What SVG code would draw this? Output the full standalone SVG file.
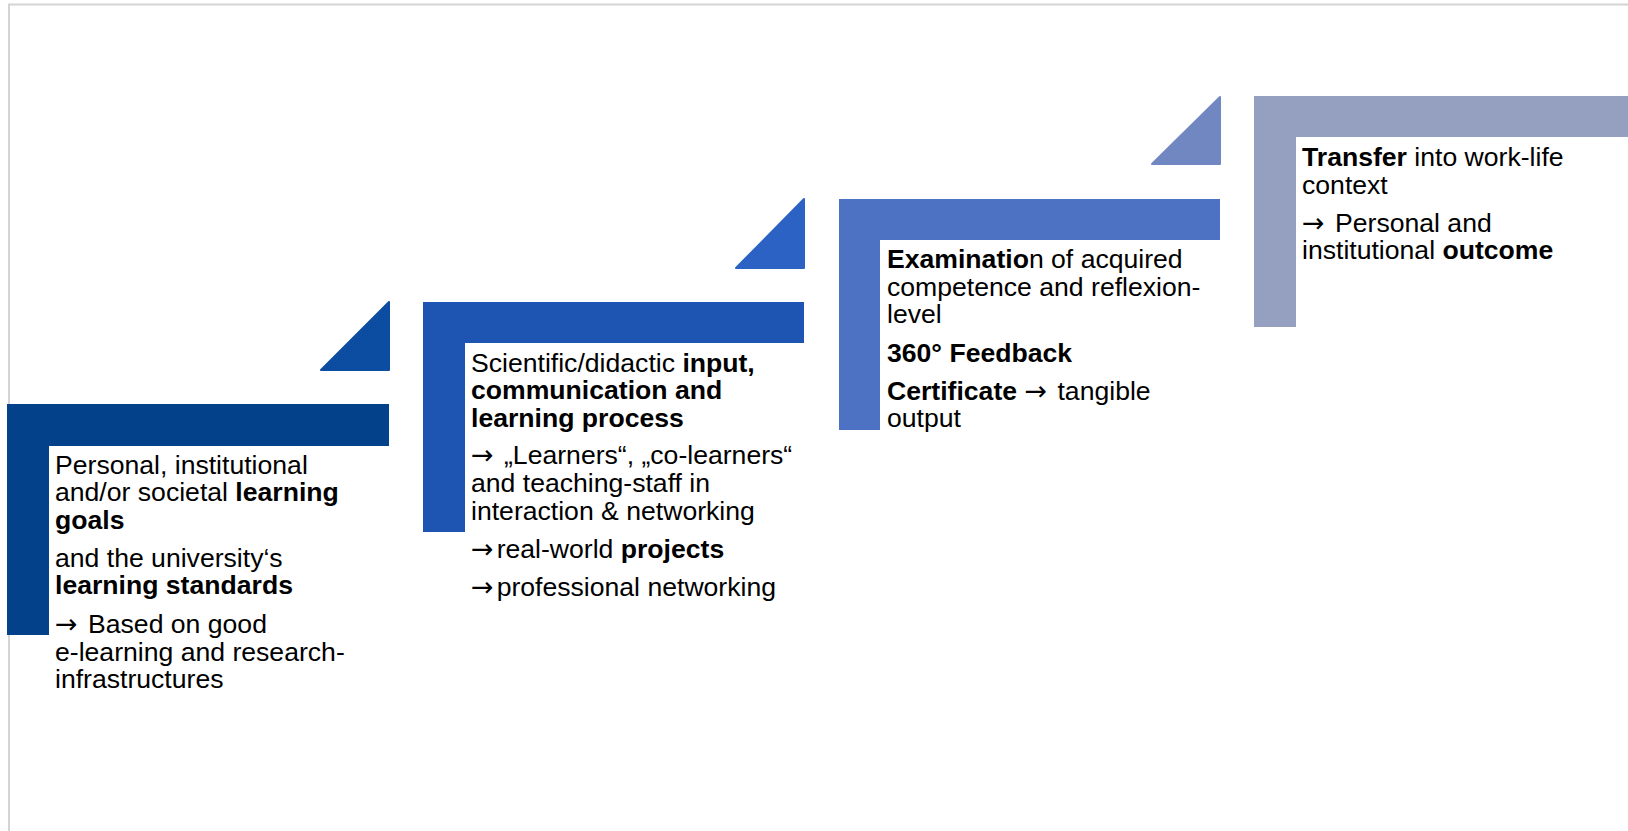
<svg xmlns="http://www.w3.org/2000/svg" width="1628" height="831" viewBox="0 0 1628 831">
<style>
text{font-family:"Liberation Sans",Arial,sans-serif;font-size:26.6px;fill:#000}
.b{font-weight:bold}
.ar{font-family:"DejaVu Sans",sans-serif;font-weight:normal;font-size:27px;letter-spacing:3px}
.frame{fill:none;stroke:#d4d4d4;stroke-width:2}
</style>
<rect x="0" y="0" width="1628" height="831" fill="#fff"/>
<path class="frame" d="M9,831 V4.5 H1628"/>
<g id="step1">
<path d="M321,370 L389,302 L389,370 Z" fill="#0d4da1" stroke="#0d4da1" stroke-width="2" stroke-linejoin="round"/>
<path d="M7,404 H389 V446 H49 V635 H7 Z" fill="#03428a"/>
<text><tspan x="55" y="474">Personal, institutional</tspan><tspan x="55" y="501">and/or societal <tspan class="b">learning</tspan></tspan><tspan x="55" y="529" class="b">goals</tspan><tspan x="55" y="567">and the university‘s</tspan><tspan x="55" y="594" class="b">learning standards</tspan><tspan x="55" y="633"><tspan class="ar">→</tspan> Based on good</tspan><tspan x="55" y="661">e-learning and research-</tspan><tspan x="55" y="688">infrastructures</tspan></text>
</g>
<g id="step2">
<path d="M736,268 L804,199 L804,268 Z" fill="#2b62c3" stroke="#2b62c3" stroke-width="2" stroke-linejoin="round"/>
<path d="M423,302 H804 V343 H465 V532 H423 Z" fill="#1e55b3"/>
<text><tspan x="471" y="372">Scientific/didactic <tspan class="b">input,</tspan></tspan><tspan x="471" y="399" class="b">communication and</tspan><tspan x="471" y="427" class="b">learning process</tspan><tspan x="471" y="464"><tspan class="ar">→</tspan> „Learners“, „co-learners“</tspan><tspan x="471" y="492">and teaching-staff in</tspan><tspan x="471" y="520">interaction &amp; networking</tspan><tspan x="471" y="558"><tspan class="ar">→</tspan>real-world <tspan class="b">projects</tspan></tspan><tspan x="471" y="596"><tspan class="ar">→</tspan>professional networking</tspan></text>
</g>
<g id="step3">
<path d="M1152,164 L1220,97 L1220,164 Z" fill="#7187c2" stroke="#7187c2" stroke-width="2" stroke-linejoin="round"/>
<path d="M839,199 H1220 V240 H880 V430 H839 Z" fill="#4d72c3"/>
<text><tspan x="887" y="268"><tspan class="b">Examinatio</tspan>n of acquired</tspan><tspan x="887" y="296">competence and reflexion-</tspan><tspan x="887" y="323">level</tspan><tspan x="887" y="362" class="b">360° Feedback</tspan><tspan x="887" y="400"><tspan class="b">Certificate</tspan> <tspan class="ar">→</tspan> tangible</tspan><tspan x="887" y="427">output</tspan></text>
</g>
<g id="step4">
<path d="M1254,96 H1628 V137 H1296 V327 H1254 Z" fill="#95a0c0"/>
<text><tspan x="1302" y="166"><tspan class="b">Transfer</tspan> into work-life</tspan><tspan x="1302" y="194">context</tspan><tspan x="1302" y="232"><tspan class="ar">→</tspan> Personal and</tspan><tspan x="1302" y="259">institutional <tspan class="b">outcome</tspan></tspan></text>
</g>
<g id="connectors"></g>
</svg>
